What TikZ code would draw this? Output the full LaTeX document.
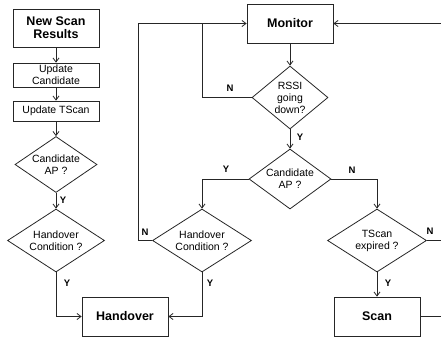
\documentclass[tikz,border=0pt]{standalone}
\usepackage{fontspec}
\setmainfont{Liberation Sans}
\usetikzlibrary{shapes.geometric,arrows.meta}
\begin{document}
\begin{tikzpicture}[x=1pt,y=-1pt]
\tikzset{
 ln/.style={draw=black!85, line width=0.8pt},
 arr/.style={ln, -{Straight Barb[length=4pt,width=6pt]}},
 box/.style={ln, rectangle, inner sep=0pt, align=center, font=\fontsize{10.5}{12}\selectfont},
 bbox/.style={box, font=\bfseries\fontsize{12.5}{13}\selectfont},
 dia/.style={ln, diamond, inner sep=-12pt, align=center, font=\fontsize{10.5}{12}\selectfont},
 yn/.style={font=\bfseries\fontsize{9.5}{10}\selectfont, inner sep=0pt},
}
\useasboundingbox (0,0) rectangle (441,338);
% left column
\node[bbox, minimum width=86, minimum height=38] (nsr) at (56,28) {New Scan\\Results};
\node[box, minimum width=86, minimum height=24] (uc) at (56,75) {Update\\Candidate};
\node[box, minimum width=86, minimum height=20] (ut) at (56,111) {Update TScan};
\node[dia, minimum width=82, minimum height=56] (ca1) at (56,164.5) {Candidate\\AP ?};
\node[dia, minimum width=97, minimum height=63] (hc1) at (56,240.5) {Handover\\Condition ?};
\node[bbox, minimum width=86, minimum height=39] (ho) at (125,316.5) {Handover};
% right part
\node[bbox, minimum width=86, minimum height=39] (mon) at (290,23.5) {Monitor};
\node[dia, minimum width=76, minimum height=63] (rssi) at (290,97.5) {RSSI\\going\\down?};
\node[dia, minimum width=82, minimum height=60] (ca2) at (290,179) {Candidate\\AP ?};
\node[dia, minimum width=99, minimum height=63] (hc2) at (202,240.5) {Handover\\Condition ?};
\node[dia, minimum width=99, minimum height=63] (ts) at (377,240.5) {TScan\\expired ?};
\node[bbox, minimum width=86, minimum height=39] (scan) at (377,316.5) {Scan};
% corner coordinates
\coordinate (lcorner) at (138,23.5);
\coordinate (mcorner) at (202,23.5);
\coordinate (rcorner) at (443,23.5);
% connectors
\draw[arr] (nsr) -- (uc);
\draw[arr] (uc) -- (ut);
\draw[arr] (ut) -- (ca1);
\draw[arr] (ca1) -- (hc1);
\draw[arr] (hc1.south) |- (ho.west);
\draw[arr] (hc2.south) |- (ho.east);
\draw[arr] (hc2.west) -| (lcorner) -- (mon.west);
\draw[ln] (rssi.west) -| (mcorner);
\draw[arr] (mon) -- (rssi);
\draw[arr] (rssi) -- (ca2);
\draw[arr] (ca2.west) -| (hc2.north);
\draw[arr] (ca2.east) -| (ts.north);
\draw[arr] (ts) -- (scan);
\draw[ln] (ts.east) -- (ts.east -| rcorner);
\draw[arr] (scan.east) -| (rcorner) -- (mon.east);
% labels
\node[yn] (y1) at (63,200) {Y};
\node[yn] (y2) at (67,283) {Y};
\node[yn] (n1) at (230,88) {N};
\node[yn] (y3) at (300,137) {Y};
\node[yn] (y4) at (226,169) {Y};
\node[yn] (n2) at (352,170) {N};
\node[yn] (n3) at (145,232) {N};
\node[yn] (y5) at (210,283) {Y};
\node[yn] (n4) at (430,231) {N};
\node[yn] (y6) at (388,283) {Y};
\end{tikzpicture}
\end{document}
